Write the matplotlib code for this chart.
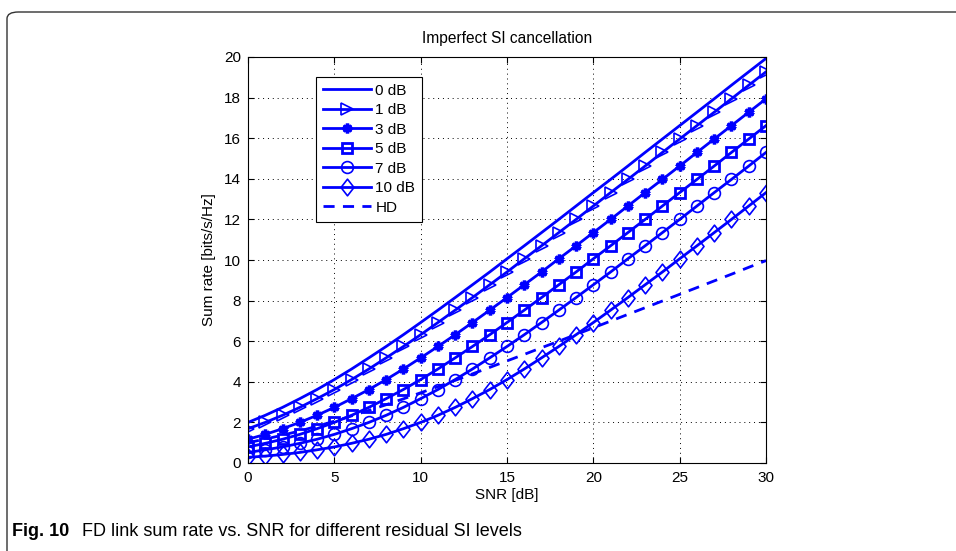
import matplotlib
matplotlib.use("Agg")
import matplotlib.pyplot as plt
from matplotlib.patches import FancyBboxPatch
from matplotlib.path import Path

snr_db = list(range(0, 31))

rate_0db = [2.00, 2.35, 2.74, 3.17, 3.62, 4.11, 4.63, 5.18, 5.74, 6.32, 6.92, 7.53, 8.15,
            8.78, 9.41, 10.06, 10.70, 11.35, 12.00, 12.66, 13.32, 13.97, 14.63, 15.30,
            15.96, 16.62, 17.28, 17.94, 18.61, 19.27, 19.93]
rate_1db = [1.69, 2.00, 2.35, 2.74, 3.17, 3.62, 4.11, 4.63, 5.18, 5.74, 6.32, 6.92, 7.53,
            8.15, 8.78, 9.41, 10.06, 10.70, 11.35, 12.00, 12.66, 13.32, 13.97, 14.63,
            15.30, 15.96, 16.62, 17.28, 17.94, 18.61, 19.27]
rate_3db = [1.17, 1.41, 1.69, 2.00, 2.35, 2.74, 3.17, 3.62, 4.11, 4.63, 5.18, 5.74, 6.32,
            6.92, 7.53, 8.15, 8.78, 9.41, 10.06, 10.70, 11.35, 12.00, 12.66, 13.32,
            13.97, 14.63, 15.30, 15.96, 16.62, 17.28, 17.94]
rate_5db = [0.79, 0.97, 1.17, 1.41, 1.69, 2.00, 2.35, 2.74, 3.17, 3.62, 4.11, 4.63, 5.18,
            5.74, 6.32, 6.92, 7.53, 8.15, 8.78, 9.41, 10.06, 10.70, 11.35, 12.00,
            12.66, 13.32, 13.97, 14.63, 15.30, 15.96, 16.62]
rate_7db = [0.52, 0.65, 0.79, 0.97, 1.17, 1.41, 1.69, 2.00, 2.35, 2.74, 3.17, 3.62, 4.11,
            4.63, 5.18, 5.74, 6.32, 6.92, 7.53, 8.15, 8.78, 9.41, 10.06, 10.70,
            11.35, 12.00, 12.66, 13.32, 13.97, 14.63, 15.30]
rate_10db = [0.28, 0.34, 0.42, 0.52, 0.65, 0.79, 0.97, 1.17, 1.41, 1.69, 2.00, 2.35, 2.74,
             3.17, 3.62, 4.11, 4.63, 5.18, 5.74, 6.32, 6.92, 7.53, 8.15, 8.78,
             9.41, 10.06, 10.70, 11.35, 12.00, 12.66, 13.32]
rate_hd = [1.00, 1.18, 1.37, 1.58, 1.81, 2.06, 2.32, 2.59, 2.87, 3.16, 3.46, 3.76, 4.07,
           4.39, 4.71, 5.03, 5.35, 5.68, 6.00, 6.33, 6.66, 6.99, 7.32, 7.65,
           7.98, 8.31, 8.64, 8.97, 9.30, 9.64, 9.97]

labels = ["0 dB", "1 dB", "3 dB", "5 dB", "7 dB", "10 dB", "HD"]
x_ticks = [0, 5, 10, 15, 20, 25, 30]
y_ticks = [0, 2, 4, 6, 8, 10, 12, 14, 16, 18, 20]

plt.rcParams['font.family'] = ['Liberation Sans', 'DejaVu Sans']

BLUE = (0, 0, 1)
fig = plt.figure(figsize=(9.56, 5.51), dpi=100, facecolor='white')

# outer rounded frame
frame = FancyBboxPatch((7 / 956, -30 / 551), 1000 / 956, (539 + 30) / 551,
                       boxstyle="round,pad=0,rounding_size=0.012",
                       transform=fig.transFigure, facecolor='none',
                       edgecolor='#333333', linewidth=1.0, clip_on=False)
fig.patches.append(frame)

ax = fig.add_axes([248 / 956, 1 - 463 / 551, 518 / 956, 406 / 551])

diamond = Path([(0, 1), (0.78, 0), (0, -1), (-0.78, 0), (0, 1)],
               [Path.MOVETO, Path.LINETO, Path.LINETO, Path.LINETO, Path.CLOSEPOLY])

lw = 2.0
ax.plot(snr_db, rate_0db, color=BLUE, lw=lw, label=labels[0])
ax.plot(snr_db, rate_1db, color=BLUE, lw=lw, marker='>', ms=9, mfc='none', mew=1.2, label=labels[1])
ax.plot(snr_db, rate_3db, color=BLUE, lw=lw, marker=(6, 2, 0), ms=7, mew=2.5, label=labels[2])
ax.plot(snr_db, rate_5db, color=BLUE, lw=lw, marker='s', ms=7, mfc='none', mew=2.0, label=labels[3])
ax.plot(snr_db, rate_7db, color=BLUE, lw=lw, marker='o', ms=8.5, mfc='none', mew=1.2, label=labels[4])
ax.plot(snr_db, rate_10db, color=BLUE, lw=lw, marker=diamond, ms=12, mfc='none', mew=1.2, label=labels[5])
ax.plot(snr_db, rate_hd, color=BLUE, lw=lw, ls=(0, (4, 3)), label=labels[6])

ax.set_xlim(0, 30)
ax.set_ylim(0, 20)
ax.set_xticks(x_ticks)
ax.set_yticks(y_ticks)
ax.tick_params(direction='in', top=True, right=True, length=4, width=0.8,
               labelsize=11, colors='black')
ax.tick_params(axis='x', pad=6)
ax.tick_params(axis='y', pad=5)
ax.grid(True, color='black', linestyle=(0, (1, 4)), linewidth=0.7)
for s in ax.spines.values():
    s.set_linewidth(0.8)
    s.set_color('black')

ax.set_title("Imperfect SI cancellation", fontsize=11.2, pad=10)
ax.set_xlabel("SNR [dB]", fontsize=11, labelpad=2)
ax.set_ylabel("Sum rate [bits/s/Hz]", fontsize=11, labelpad=6)

leg = ax.legend(loc='upper left', bbox_to_anchor=(0.131, 0.951), fontsize=11,
                handlelength=3.15, handletextpad=0.3, labelspacing=0.36,
                borderpad=0.45, borderaxespad=0, fancybox=False, framealpha=1,
                edgecolor='black')
leg.get_frame().set_linewidth(0.8)

fig.text(12 / 956, 1 - 532 / 551, "Fig. 10", fontsize=13, fontweight='bold',
         va='center', ha='left')
fig.text(82 / 956, 1 - 532 / 551, "FD link sum rate vs. SNR for different residual SI levels",
         fontsize=13, va='center', ha='left')

fig.savefig("out.png", dpi=100, facecolor='white')
